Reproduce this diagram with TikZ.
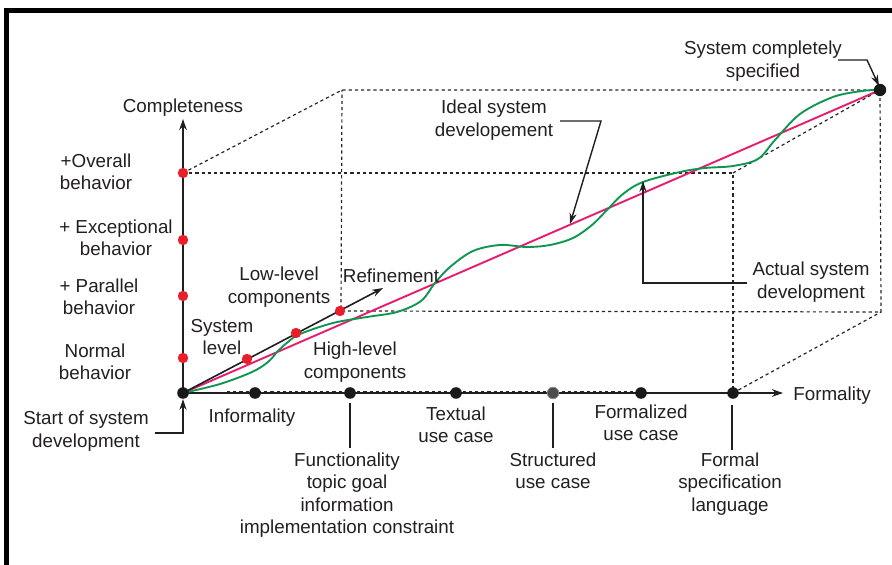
\documentclass[tikz,border=0pt]{standalone}
\usepackage{fontspec}
\setmainfont{Liberation Sans}
\usetikzlibrary{arrows.meta}
\definecolor{txt}{RGB}{35,31,32}
\definecolor{dotred}{RGB}{232,30,40}
\definecolor{ideal}{RGB}{232,28,110}
\definecolor{actual}{RGB}{16,150,80}
\begin{document}
\begin{tikzpicture}[x=0.5pt,y=-0.5pt,
  axis/.style={line width=1pt, draw=black!88, -{Stealth[length=5.5pt,width=3.8pt]}},
  boxedge/.style={line width=0.6pt, black!85, dash pattern=on 1.6pt off 1.5pt},
  lead/.style={line width=0.7pt, draw=black!88, -{Stealth[length=5.5pt,width=3.6pt]}},
  tickline/.style={line width=0.7pt, draw=black!88},
  bdot/.style={circle, fill=black!90, inner sep=0pt, minimum size=5.8pt},
  gdot/.style={circle, fill=black!70, draw=black!45, line width=0.4pt, inner sep=0pt, minimum size=5.8pt},
  rdot/.style={circle, fill=dotred, inner sep=0pt, minimum size=5.2pt},
  lbl/.style={align=center, inner sep=0pt, text=txt, font=\fontsize{9.4}{11.2}\selectfont}]
\useasboundingbox (0,0) rectangle (892,565);

% outer frame (top and left)
\draw[line width=2.6pt, line join=miter] (6.6,565) -- (6.6,10.8) -- (892,10.8);

% corners of the box
\coordinate (O)  at (183,393);
\coordinate (F1) at (183,173);
\coordinate (F2) at (733,173);
\coordinate (F3) at (733,393);
\coordinate (B1) at (342,90);
\coordinate (B2) at (880,90);
\coordinate (B3) at (881,312);
\coordinate (B4) at (341,311);
\coordinate (yEnd) at (183,119);
\coordinate (xEnd) at (783,393);
\coordinate (refEnd) at (383,288);

% dashed box
\draw[boxedge] (F1) -- (F2) -- (F3);
\draw[boxedge] (F1) -- (B1) -- (B2) -- (B3) -- (B4) -- (B1);
\draw[boxedge] (F2) -- (B2);
\draw[boxedge] (F3) -- (B3);
\draw[boxedge] (227,391.8) -- (641,391.8);

% axes
\draw[axis] (O) -- (yEnd);
\draw[axis] (O) -- (xEnd);

% ideal development
\draw[ideal, line width=0.95pt] (O) -- (B2);

% actual development
\draw[actual, line width=0.95pt] plot[smooth, tension=0.55] coordinates {
  (183,393) (220,384) (252,372) (268,362) (278,351) (288,342) (300,334)
  (333,323) (367,317) (397,312) (421,301) (435,283) (450,267) (473,251)
  (500,245) (527,247) (550,245) (573,238) (592,225) (607,210) (623,194)
  (643,182) (680,172) (705,168) (733,166) (758,159) (775,140) (800,114)
  (833,97) (862,91) (880,90)};

% refinement direction
\draw[lead, line width=0.8pt] (O) -- (refEnd);

% leader lines
\coordinate (idealA) at (560,121);
\coordinate (idealB) at (601,121);
\coordinate (idealTip) at (570,224);
\draw[lead] (idealA) -- (idealB) -- (idealTip);
\coordinate (actA) at (747,283);
\coordinate (actB) at (643,283);
\coordinate (actTip) at (643,181);
\draw[lead] (actA) -- (actB) -- (actTip);
\coordinate (specA) at (838,60);
\coordinate (specB) at (867,60);
\coordinate (specTip) at (879,86);
\draw[lead] (specA) -- (specB) -- (specTip);
\coordinate (startA) at (155,433);
\coordinate (startB) at (183,433);
\coordinate (startTip) at (183,399);
\draw[lead] (startA) -- (startB) -- (startTip);

% ticks under the formality axis
\coordinate (t1a) at (350,403); \coordinate (t1b) at (350,448);
\coordinate (t2a) at (553,403); \coordinate (t2b) at (553,448);
\coordinate (t3a) at (732,405); \coordinate (t3b) at (732,450);
\draw[tickline] (t1a) -- (t1b);
\draw[tickline] (t2a) -- (t2b);
\draw[tickline] (t3a) -- (t3b);

% completeness levels
\node[rdot] (c1) at (183,173) {};
\node[rdot] (c2) at (183,240) {};
\node[rdot] (c3) at (183,296) {};
\node[rdot] (c4) at (183,358) {};
% refinement levels
\node[rdot] (r1) at (247,359) {};
\node[rdot] (r2) at (296,333) {};
\node[rdot] (r3) at (340,311) {};
% formality levels
\node[bdot] (origin) at (O) {};
\node[bdot] (f1) at (255,393) {};
\node[bdot] (f2) at (350,393) {};
\node[bdot] (f3) at (456,393) {};
\node[gdot] (f4) at (553,393) {};
\node[bdot] (f5) at (641,393) {};
\node[bdot] (f6) at (733,393) {};
\node[bdot, minimum size=6.2pt] (goal) at (B2) {};

% labels
\node[lbl] (lComp) at (183,108) {Completeness};
\node[lbl] (lForm) at (832,396) {Formality};
\node[lbl] (lOver) at (96,172) {+Overall\\behavior};
\node[lbl] (lExc)  at (116,238) {+ Exceptional\\behavior};
\node[lbl] (lPar)  at (99,297) {+ Parallel\\behavior};
\node[lbl] (lNorm) at (95,362) {Normal\\behavior};
\node[lbl] (lSys)  at (222,337) {System\\level};
\node[lbl] (lLow)  at (279,287) {Low-level\\components};
\node[lbl] (lRef)  at (391,276) {Refinement};
\node[lbl] (lHigh) at (355,362) {High-level\\components};
\node[lbl] (lStart) at (86,431) {Start of system\\development};
\node[lbl] (lInf)  at (252,418) {Informality};
\node[lbl] (lFunc) at (347,495) {Functionality\\topic goal\\information\\implementation constraint};
\node[lbl] (lText) at (456,425) {Textual\\use case};
\node[lbl] (lStr)  at (553,471) {Structured\\use case};
\node[lbl] (lFzd)  at (641,423) {Formalized\\use case};
\node[lbl] (lFsl)  at (730,484) {Formal\\specification\\language};
\node[lbl] (lAct)  at (811,282) {Actual system\\development};
\node[lbl] (lIdeal) at (494,120) {Ideal system\\developement};
\node[lbl] (lSpec) at (763,61) {System completely\\specified};
\end{tikzpicture}
\end{document}
